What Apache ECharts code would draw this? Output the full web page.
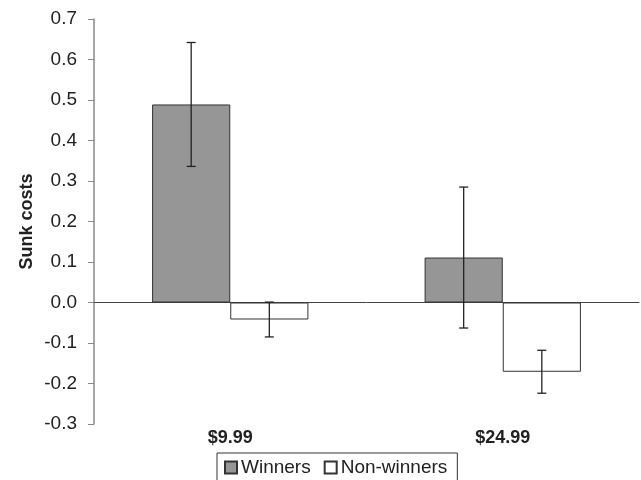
<!DOCTYPE html>
<html>
<head>
<meta charset="utf-8">
<script src="https://cdn.jsdelivr.net/npm/echarts@6/dist/echarts.min.js"></script>
<style>
  html, body { margin: 0; padding: 0; background: #fff; }
  #chart { width: 641px; height: 480px; }
</style>
</head>
<body>
<div id="chart"></div>
<script>
// data
const categories = ['$9.99', '$24.99'];
const seriesNames = ['Winners', 'Non-winners'];
const winners = [0.489, 0.111];
const nonWinners = [-0.042, -0.171];
const winnersErr = [0.153, 0.174];
const nonWinnersErr = [0.043, 0.053];

const barPct = 0.2868; // share of a category taken by one bar
const font = 'Liberation Sans, Arial, sans-serif';

// error bars drawn over a bar, shifted left or right of the category centre
function errorSeries(values, errs, side) {
  return {
    type: 'custom',
    xAxisIndex: 0,
    yAxisIndex: 0,
    z: 5,
    silent: true,
    data: values.map((v, i) => [i, v - errs[i], v + errs[i]]),
    renderItem: function (params, api) {
      const lo = api.coord([api.value(0), api.value(1)]);
      const hi = api.coord([api.value(0), api.value(2)]);
      const band = api.size([1, 0])[0];
      const x = lo[0] + side * band * barPct / 2;
      const cap = 4.5;
      const style = { stroke: '#222', lineWidth: 1.3 };
      return {
        type: 'group',
        children: [
          { type: 'line', shape: { x1: x, y1: lo[1], x2: x, y2: hi[1] }, style: style },
          { type: 'line', shape: { x1: x - cap, y1: lo[1], x2: x + cap, y2: lo[1] }, style: style },
          { type: 'line', shape: { x1: x - cap, y1: hi[1], x2: x + cap, y2: hi[1] }, style: style }
        ]
      };
    }
  };
}

const chart = echarts.init(document.getElementById('chart'));

chart.setOption({
  animation: false,
  textStyle: { fontFamily: font },
  grid: { left: 94, right: 2, top: 19, bottom: 56 },
  legend: {
    data: seriesNames,
    left: 217,
    top: 453,
    icon: 'rect',
    itemWidth: 12,
    itemHeight: 12,
    itemGap: 13,
    padding: [5, 10, 5, 7],
    borderColor: '#333',
    borderWidth: 1,
    textStyle: { fontFamily: font, fontSize: 19, color: '#222', padding: [0, 0, 0, -1] }
  },
  xAxis: [
    {
      // the line at zero, with ticks between the groups
      type: 'category',
      data: categories,
      axisLine: { onZero: true, lineStyle: { color: '#444', width: 1 } },
      axisTick: { length: 6, lineStyle: { color: '#444' } },
      axisLabel: { show: false }
    },
    {
      // price labels along the bottom
      type: 'category',
      data: categories,
      position: 'bottom',
      axisLine: { show: false, onZero: false },
      axisTick: { show: false },
      axisLabel: {
        margin: 5,
        fontSize: 18,
        fontWeight: 'bold',
        color: '#222',
        fontFamily: font
      }
    }
  ],
  yAxis: {
    type: 'value',
    min: -0.3,
    max: 0.7,
    interval: 0.1,
    name: 'Sunk costs',
    nameLocation: 'middle',
    nameRotate: 90,
    nameGap: 58,
    nameMoveOverlap: false,
    nameTextStyle: { fontSize: 18, fontWeight: 'bold', color: '#222', fontFamily: font },
    splitLine: { show: false },
    axisLine: { show: true, lineStyle: { color: '#888', width: 1.5 } },
    axisTick: { show: true, length: 6, lineStyle: { color: '#888' } },
    axisLabel: {
      margin: 17,
      fontSize: 19,
      color: '#222',
      fontFamily: font,
      formatter: v => (Math.round(v * 10) / 10).toFixed(1)
    }
  },
  series: [
    {
      name: seriesNames[0],
      type: 'bar',
      xAxisIndex: 0,
      data: winners,
      barWidth: (barPct * 100) + '%',
      barGap: '0%',
      itemStyle: { color: '#969696', borderColor: '#333', borderWidth: 1 }
    },
    {
      name: seriesNames[1],
      type: 'bar',
      xAxisIndex: 0,
      data: nonWinners,
      barWidth: (barPct * 100) + '%',
      barGap: '0%',
      itemStyle: { color: '#ffffff', borderColor: '#333', borderWidth: 1 }
    },
    errorSeries(winners, winnersErr, -1),
    errorSeries(nonWinners, nonWinnersErr, 1)
  ]
});
</script>
</body>
</html>
